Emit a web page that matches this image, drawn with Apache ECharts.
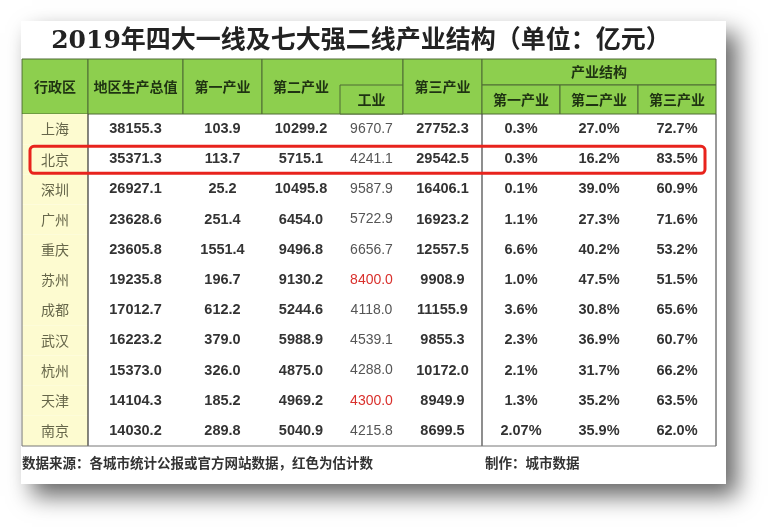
<!DOCTYPE html>
<html>
<head>
<meta charset="utf-8">
<script src="https://cdn.jsdelivr.net/npm/echarts@6/dist/echarts.min.js"></script>
<style>
html, body { margin: 0; padding: 0; background: #fff; }
#main { width: 768px; height: 527px; }
</style>
</head>
<body>
<div id="main"></div>
<script>
// 数据
const cities = ['上海', '北京', '深圳', '广州', '重庆', '苏州', '成都', '武汉', '杭州', '天津', '南京'];
const gdp = [38155.3, 35371.3, 26927.1, 23628.6, 23605.8, 19235.8, 17012.7, 16223.2, 15373.0, 14104.3, 14030.2];
const primary = [103.9, 113.7, 25.2, 251.4, 1551.4, 196.7, 612.2, 379.0, 326.0, 185.2, 289.8];
const secondary = [10299.2, 5715.1, 10495.8, 6454.0, 9496.8, 9130.2, 5244.6, 5988.9, 4875.0, 4969.2, 5040.9];
const industry = [9670.7, 4241.1, 9587.9, 5722.9, 6656.7, 8400.0, 4118.0, 4539.1, 4288.0, 4300.0, 4215.8];
const tertiary = [27752.3, 29542.5, 16406.1, 16923.2, 12557.5, 9908.9, 11155.9, 9855.3, 10172.0, 8949.9, 8699.5];
const share1 = [0.3, 0.3, 0.1, 1.1, 6.6, 1.0, 3.6, 2.3, 2.1, 1.3, 2.07];
const share2 = [27.0, 16.2, 39.0, 27.3, 40.2, 47.5, 30.8, 36.9, 31.7, 35.2, 35.9];
const share3 = [72.7, 83.5, 60.9, 71.6, 53.2, 51.5, 65.6, 60.7, 66.2, 63.5, 62.0];
const estimatedIndustry = ['苏州', '天津']; // 红色为估计数
const highlighted = ['北京'];

const titleText = '2019年四大一线及七大强二线产业结构（单位：亿元）';
const sourceText = '数据来源：各城市统计公报或官方网站数据，红色为估计数';
const makerText = '制作：城市数据';

// 版式
const colEdges = [22, 88, 183, 262, 340, 403, 482, 560, 638, 716];
const headTop = 59, headMid = 85, headBottom = 114, bodyBottom = 446;
const green = '#8dcf4e', yellow = '#fdfbd0', headLine = '#4f6b35';
const numFont = '"Liberation Sans", Arial, "Noto Sans CJK SC", sans-serif';
const cjkFont = '"Noto Sans CJK SC", sans-serif';

const fmt = v => Number.isInteger(v) ? v.toFixed(1) : String(v);
const columns = [
    { values: cities },
    { values: gdp },
    { values: primary },
    { values: secondary },
    { values: industry, light: true },
    { values: tertiary },
    { values: share1, pct: true },
    { values: share2, pct: true },
    { values: share3, pct: true }
];

const cellData = [];
cities.forEach((name, r) => {
    columns.forEach((col, c) => cellData.push([colEdges[c], r, c]));
});

function headCell(x0, x1, y0, y1, text) {
    return [
        { type: 'rect', z: 1, shape: { x: x0, y: y0, width: x1 - x0, height: y1 - y0 },
          style: { fill: green, stroke: headLine, lineWidth: 1 } },
        { type: 'text', z: 2, x: (x0 + x1) / 2, y: (y0 + y1) / 2,
          style: { text: text, font: 'bold 14px ' + cjkFont, fill: '#1f3312', align: 'center', verticalAlign: 'middle' } }
    ];
}

let header = [];
header = header.concat(
    headCell(colEdges[0], colEdges[1], headTop, headBottom, '行政区'),
    headCell(colEdges[1], colEdges[2], headTop, headBottom, '地区生产总值'),
    headCell(colEdges[2], colEdges[3], headTop, headBottom, '第一产业'),
    [{ type: 'rect', z: 1, shape: { x: colEdges[3], y: headTop, width: colEdges[5] - colEdges[3], height: headBottom - headTop },
       style: { fill: green, stroke: headLine, lineWidth: 1 } },
     { type: 'text', z: 2, x: (colEdges[3] + colEdges[4]) / 2, y: (headTop + headBottom) / 2,
       style: { text: '第二产业', font: 'bold 14px ' + cjkFont, fill: '#1f3312', align: 'center', verticalAlign: 'middle' } }],
    headCell(colEdges[4], colEdges[5], headMid, headBottom, '工业'),
    headCell(colEdges[5], colEdges[6], headTop, headBottom, '第三产业'),
    headCell(colEdges[6], colEdges[9], headTop, headMid, '产业结构'),
    headCell(colEdges[6], colEdges[7], headMid, headBottom, '第一产业'),
    headCell(colEdges[7], colEdges[8], headMid, headBottom, '第二产业'),
    headCell(colEdges[8], colEdges[9], headMid, headBottom, '第三产业')
);

const chart = echarts.init(document.getElementById('main'));
const option = {
    animation: false,
    backgroundColor: '#fff',
    grid: { left: colEdges[0], right: 768 - colEdges[9], top: headBottom, bottom: 527 - bodyBottom },
    xAxis: { type: 'value', min: colEdges[0], max: colEdges[9], show: false },
    yAxis: { type: 'category', data: cities, inverse: true, show: false },
    graphic: [
        { type: 'rect', z: 0, shape: { x: 21, y: 21, width: 705, height: 463 },
          style: { fill: '#fff', shadowBlur: 22, shadowOffsetX: 11, shadowOffsetY: 12, shadowColor: 'rgba(0,0,0,0.6)' } },
        { type: 'text', z: 2, x: 361, y: 41,
          style: { text: titleText, font: 'bold 25px "DejaVu Serif", "Noto Sans CJK SC", serif', fill: '#222', align: 'center', verticalAlign: 'middle' } },
        { type: 'text', z: 2, x: 22, y: 463,
          style: { text: sourceText, font: 'bold 13.5px ' + cjkFont, fill: '#333', align: 'left', verticalAlign: 'middle' } },
        { type: 'text', z: 2, x: 485, y: 463,
          style: { text: makerText, font: 'bold 13.5px ' + cjkFont, fill: '#333', align: 'left', verticalAlign: 'middle' } }
    ].concat(header),
    series: [
        {
            name: 'cells',
            type: 'custom',
            data: cellData,
            z: 2,
            renderItem: function (params, api) {
                const r = api.value(1), c = api.value(2);
                const p0 = api.coord([colEdges[c], r]);
                const p1 = api.coord([colEdges[c + 1], r]);
                const h = api.size([0, 1])[1];
                const col = columns[c];
                const v = col.values[r];
                const children = [];
                let text, font, color;
                if (c === 0) {
                    children.push({ type: 'rect', shape: { x: p0[0], y: p0[1] - h / 2, width: p1[0] - p0[0], height: h },
                        style: { fill: yellow } });
                    text = v; font = '14px ' + cjkFont; color = '#66664a';
                } else if (col.light) {
                    text = fmt(v); font = '14px ' + numFont;
                    color = estimatedIndustry.indexOf(cities[r]) >= 0 ? '#d9302c' : '#555';
                } else {
                    text = fmt(v) + (col.pct ? '%' : '');
                    font = 'bold 14.5px ' + numFont; color = '#333';
                }
                children.push({ type: 'text', x: (p0[0] + p1[0]) / 2, y: p0[1],
                    style: { text: text, font: font, fill: color, align: 'center', verticalAlign: 'middle' } });
                return { type: 'group', children: children };
            }
        },
        {
            name: 'frame',
            type: 'custom',
            data: [[colEdges[0], 0]],
            z: 3,
            renderItem: function (params, api) {
                const h = api.size([0, 1])[1];
                const top = api.coord([colEdges[0], 0])[1] - h / 2;
                const bottom = api.coord([colEdges[0], cities.length - 1])[1] + h / 2;
                const lines = [[0, '#888'], [1, '#333'], [6, '#444'], [9, '#555']].map(function (d) {
                    const x = api.coord([colEdges[d[0]], 0])[0];
                    return { type: 'line', shape: { x1: x, y1: top, x2: x, y2: bottom },
                        style: { stroke: d[1], lineWidth: 1.2 } };
                });
                const xl = api.coord([colEdges[0], 0])[0], xr = api.coord([colEdges[9], 0])[0];
                lines.push({ type: 'line', shape: { x1: xl, y1: bottom, x2: xr, y2: bottom },
                    style: { stroke: '#777', lineWidth: 1 } });
                return { type: 'group', children: lines };
            }
        },
        {
            name: 'highlight',
            type: 'custom',
            data: highlighted.map(n => [30, cities.indexOf(n)]),
            z: 4,
            renderItem: function (params, api) {
                const p0 = api.coord([30, api.value(1)]);
                const p1 = api.coord([705, api.value(1)]);
                return { type: 'rect', shape: { x: p0[0], y: p0[1] - 13, width: p1[0] - p0[0], height: 27, r: 4 },
                    style: { fill: 'none', stroke: '#e8231c', lineWidth: 3 } };
            }
        }
    ]
};
chart.setOption(option);
</script>
</body>
</html>
